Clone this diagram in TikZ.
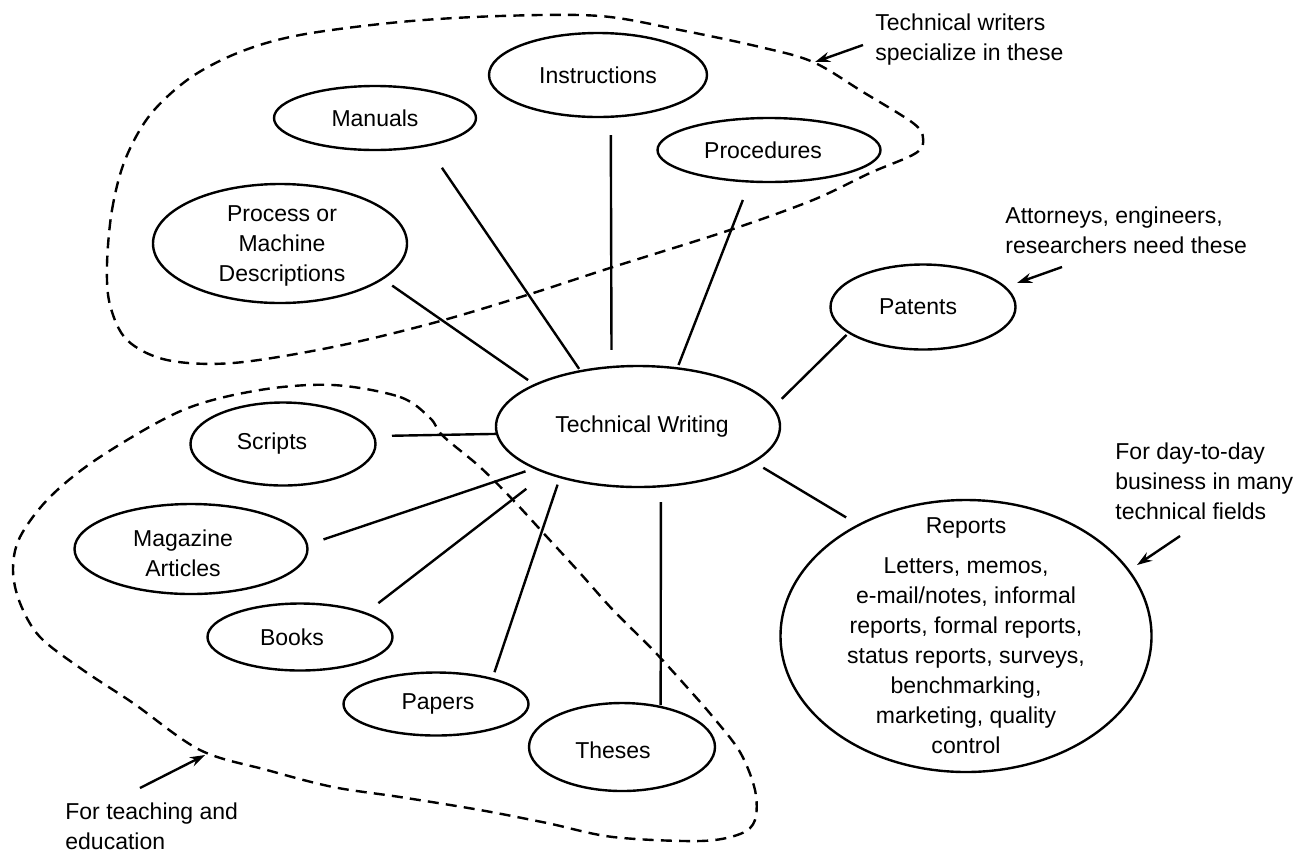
\documentclass[tikz,border=0pt]{standalone}
\usepackage{fontspec}
\setmainfont{Liberation Sans}
\usetikzlibrary{shapes.geometric,arrows.meta}
\begin{document}
\begin{tikzpicture}[x=0.5pt,y=-0.5pt,
  font=\fontsize{11.5}{15}\selectfont,
  blob/.style={draw, ellipse, line width=1.2pt, inner sep=0pt, outer sep=0pt},
  link/.style={line width=1.2pt},
  region/.style={line width=1.2pt, dash pattern=on 5.5pt off 3.6pt},
  note/.style={anchor=west, align=left, inner sep=0pt},
  pointer/.style={line width=1.2pt, -{Stealth[length=7.5pt,width=5pt]}},
  every label/.style={align=center, inner sep=0pt}
]
\useasboundingbox (0,0) rectangle (1304,852);

% dashed regions
\draw[region] plot[smooth cycle, tension=0.55] coordinates {
 (107,265) (112,210) (125,160) (150,115) (190,78) (240,52) (300,35) (400,22)
 (500,16) (600,16) (680,30) (760,47) (813,62) (863,92) (913,123) (923,138)
 (916,153) (870,173) (813,200) (730,230) (613,267) (527,295) (433,323)
 (333,347) (233,363) (167,360) (127,340) (110,305)};
\draw[region] plot[smooth cycle, tension=0.55] coordinates {
 (333,385) (400,397) (430,418) (443,436) (480,467) (513,500) (547,537)
 (580,573) (613,610) (653,650) (685,685) (713,717) (740,752) (755,790)
 (755,820) (740,834) (700,841) (613,837) (547,823) (480,810) (400,797)
 (333,787) (267,770) (200,750) (133,703) (83,670) (40,637) (20,603)
 (13,570) (20,537) (50,497) (100,457) (183,410) (260,390)};

% nodes
\node[blob, minimum width=142pt, minimum height=60.5pt,
  label={[xshift=2pt]center:Technical Writing}] (tw) at (638,426.5) {};
\node[blob, minimum width=109pt, minimum height=42pt,
  label={center:Instructions}] (ins) at (598,75) {};
\node[blob, minimum width=101pt, minimum height=32pt,
  label={center:Manuals}] (man) at (375,118) {};
\node[blob, minimum width=111.5pt, minimum height=32pt,
  label={[xshift=-3pt]center:Procedures}] (pro) at (769,150) {};
\node[blob, minimum width=127pt, minimum height=59.5pt,
  label={[xshift=1pt,yshift=-1pt]center:Process or\\Machine\\Descriptions}] (pmd) at (280,243.5) {};
\node[blob, minimum width=92.5pt, minimum height=42.5pt,
  label={[xshift=-2.5pt]center:Patents}] (pat) at (923,307) {};
\node[blob, minimum width=92.5pt, minimum height=41.5pt,
  label={[xshift=-5.5pt]center:Scripts}] (scr) at (283,444) {};
\node[blob, minimum width=116.5pt, minimum height=45pt,
  label={[xshift=-4pt,yshift=-2pt]center:Magazine\\Articles}] (mag) at (191,549) {};
\node[blob, minimum width=92.5pt, minimum height=33.5pt,
  label={[xshift=-4pt]center:Books}] (boo) at (300,637) {};
\node[blob, minimum width=92.5pt, minimum height=31.5pt,
  label={[xshift=1pt]center:Papers}] (pap) at (436,704) {};
\node[blob, minimum width=93pt, minimum height=44pt,
  label={[xshift=-4.5pt,yshift=-1.5pt]center:Theses}] (the) at (622,747) {};
\node[blob, minimum width=185.5pt, minimum height=136pt,
  label={center:Reports\\[5pt]Letters, memos,\\e-mail/notes, informal\\reports, formal reports,\\status reports, surveys,\\benchmarking,\\marketing, quality\\control}] (rep) at (966,636) {};

% connectors
\draw[link, shorten <=6pt, shorten >=4.2pt] (pmd.-19.2) -- (tw.158.9);
\draw[link, shorten <=13.5pt, shorten >=1.4pt] (man.-28.6) -- (tw.136.6);
\draw[link, shorten <=9.2pt, shorten >=8.6pt] (ins.-73.9) -- (tw.114.4);
\draw[link, shorten <=9.9pt, shorten >=1.8pt] (pro.239.4) -- (tw.56.4);
\draw[link, shorten <=1.7pt, shorten >=6.2pt] (pat.199.3) -- (tw.8.5);
\draw[link, shorten <=7.4pt, shorten >=5.8pt] (rep.134.5) -- (tw.-17.1);
\draw[link, shorten <=9.1pt] (scr.5.0) -- (tw.183.9);
\draw[link, shorten <=8.7pt, shorten >=5pt] (mag.2.8) -- (tw.202.7);
\draw[link, shorten <=8.3pt, shorten >=13pt] (boo.20.2) -- (tw.207.3);
\draw[link, shorten <=3.6pt, shorten >=4pt] (pap.24.4) -- (tw.213.7);
\draw[link, shorten <=0.9pt, shorten >=7.9pt] (the.46.6) -- (tw.-69.8);

% annotations
\node[note] (n1) at (875,40) {Technical writers\\specialize in these};
\node[note] (n2) at (1005,230) {Attorneys, engineers,\\researchers need these};
\node[note] (n3) at (1115,481) {For day-to-day\\business in many\\technical fields};
\node[note] (n4) at (65,826) {For teaching and\\education};

\coordinate (a1s) at (863,45);  \coordinate (a1e) at (815,62);
\coordinate (a2s) at (1062,267); \coordinate (a2e) at (1017,283);
\coordinate (a3s) at (1180,536); \coordinate (a3e) at (1137,565);
\coordinate (a4s) at (140,788);  \coordinate (a4e) at (205,755);
\draw[pointer] (a1s) -- (a1e);
\draw[pointer] (a2s) -- (a2e);
\draw[pointer] (a3s) -- (a3e);
\draw[pointer] (a4s) -- (a4e);
\end{tikzpicture}
\end{document}
